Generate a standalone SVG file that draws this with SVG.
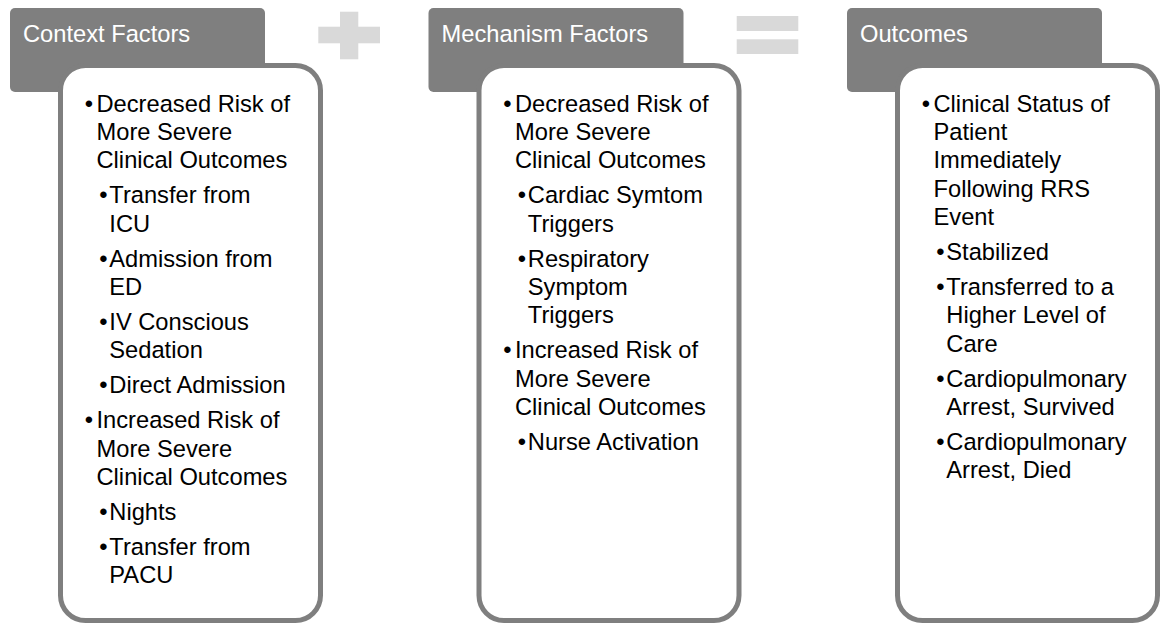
<svg xmlns="http://www.w3.org/2000/svg" width="1160" height="623" viewBox="0 0 1160 623">
  <style>
    .hdr { fill: #7f7f7f; }
    .box { fill: #ffffff; stroke: #7f7f7f; stroke-width: 5; }
    .op { fill: #d9d9d9; }
    .ht { font-family: "Liberation Sans", Arial, sans-serif; font-size: 23.7px; fill: #ffffff; }
    .bt { font-family: "Liberation Sans", Arial, sans-serif; font-size: 23.7px; fill: #000000; }
  </style>
  <rect width="1160" height="623" fill="#ffffff"/>

  <g id="connectors">
    <g id="plus">
      <rect class="op" x="318.3" y="26.7" width="61.7" height="16.6"/>
      <rect class="op" x="340" y="11.7" width="18.3" height="47.6"/>
    </g>
    <g id="equals">
      <rect class="op" x="736.7" y="16" width="61.6" height="15"/>
      <rect class="op" x="736.7" y="39.3" width="61.6" height="14.7"/>
    </g>
  </g>

  <g id="context-factors">
    <rect class="hdr" x="10" y="8" width="255" height="84" rx="5"/>
    <text class="ht" x="23" y="41.7">Context Factors</text>
    <rect class="box" x="60.5" y="65.5" width="260" height="555" rx="25"/>
    <text class="bt" x="84.85" y="111.7">•</text>
    <text class="bt" x="96.5" y="111.7">Decreased Risk of</text>
    <text class="bt" x="96.5" y="140">More Severe</text>
    <text class="bt" x="96.5" y="168.3">Clinical Outcomes</text>
    <text class="bt" x="99.35" y="203.3">•</text>
    <text class="bt" x="109.3" y="203.3">Transfer from</text>
    <text class="bt" x="109.3" y="231.6">ICU</text>
    <text class="bt" x="99.35" y="266.6">•</text>
    <text class="bt" x="109.3" y="266.6">Admission from</text>
    <text class="bt" x="109.3" y="294.9">ED</text>
    <text class="bt" x="99.35" y="329.9">•</text>
    <text class="bt" x="109.3" y="329.9">IV Conscious</text>
    <text class="bt" x="109.3" y="358.2">Sedation</text>
    <text class="bt" x="99.35" y="393.2">•</text>
    <text class="bt" x="109.3" y="393.2">Direct Admission</text>
    <text class="bt" x="84.85" y="428.2">•</text>
    <text class="bt" x="96.5" y="428.2">Increased Risk of</text>
    <text class="bt" x="96.5" y="456.5">More Severe</text>
    <text class="bt" x="96.5" y="484.8">Clinical Outcomes</text>
    <text class="bt" x="99.35" y="519.8">•</text>
    <text class="bt" x="109.3" y="519.8">Nights</text>
    <text class="bt" x="99.35" y="554.8">•</text>
    <text class="bt" x="109.3" y="554.8">Transfer from</text>
    <text class="bt" x="109.3" y="583.1">PACU</text>
  </g>

  <g id="mechanism-factors" transform="translate(418.5 0)">
    <rect class="hdr" x="10" y="8" width="255" height="84" rx="5"/>
    <text class="ht" x="23" y="41.7">Mechanism Factors</text>
    <rect class="box" x="60.5" y="65.5" width="260" height="555" rx="25"/>
    <text class="bt" x="84.85" y="111.7">•</text>
    <text class="bt" x="96.5" y="111.7">Decreased Risk of</text>
    <text class="bt" x="96.5" y="140">More Severe</text>
    <text class="bt" x="96.5" y="168.3">Clinical Outcomes</text>
    <text class="bt" x="99.35" y="203.3">•</text>
    <text class="bt" x="109.3" y="203.3">Cardiac Symtom</text>
    <text class="bt" x="109.3" y="231.6">Triggers</text>
    <text class="bt" x="99.35" y="266.6">•</text>
    <text class="bt" x="109.3" y="266.6">Respiratory</text>
    <text class="bt" x="109.3" y="294.9">Symptom</text>
    <text class="bt" x="109.3" y="323.2">Triggers</text>
    <text class="bt" x="84.85" y="358.2">•</text>
    <text class="bt" x="96.5" y="358.2">Increased Risk of</text>
    <text class="bt" x="96.5" y="386.5">More Severe</text>
    <text class="bt" x="96.5" y="414.8">Clinical Outcomes</text>
    <text class="bt" x="99.35" y="449.8">•</text>
    <text class="bt" x="109.3" y="449.8">Nurse Activation</text>
  </g>

  <g id="outcomes" transform="translate(837 0)">
    <rect class="hdr" x="10" y="8" width="255" height="84" rx="5"/>
    <text class="ht" x="23" y="41.7">Outcomes</text>
    <rect class="box" x="60.5" y="65.5" width="260" height="555" rx="25"/>
    <text class="bt" x="84.85" y="111.7">•</text>
    <text class="bt" x="96.5" y="111.7">Clinical Status of</text>
    <text class="bt" x="96.5" y="140">Patient</text>
    <text class="bt" x="96.5" y="168.3">Immediately</text>
    <text class="bt" x="96.5" y="196.6">Following RRS</text>
    <text class="bt" x="96.5" y="224.9">Event</text>
    <text class="bt" x="99.35" y="259.9">•</text>
    <text class="bt" x="109.3" y="259.9">Stabilized</text>
    <text class="bt" x="99.35" y="294.9">•</text>
    <text class="bt" x="109.3" y="294.9">Transferred to a</text>
    <text class="bt" x="109.3" y="323.2">Higher Level of</text>
    <text class="bt" x="109.3" y="351.5">Care</text>
    <text class="bt" x="99.35" y="386.5">•</text>
    <text class="bt" x="109.3" y="386.5">Cardiopulmonary</text>
    <text class="bt" x="109.3" y="414.8">Arrest, Survived</text>
    <text class="bt" x="99.35" y="449.8">•</text>
    <text class="bt" x="109.3" y="449.8">Cardiopulmonary</text>
    <text class="bt" x="109.3" y="478.1">Arrest, Died</text>
  </g>
</svg>
